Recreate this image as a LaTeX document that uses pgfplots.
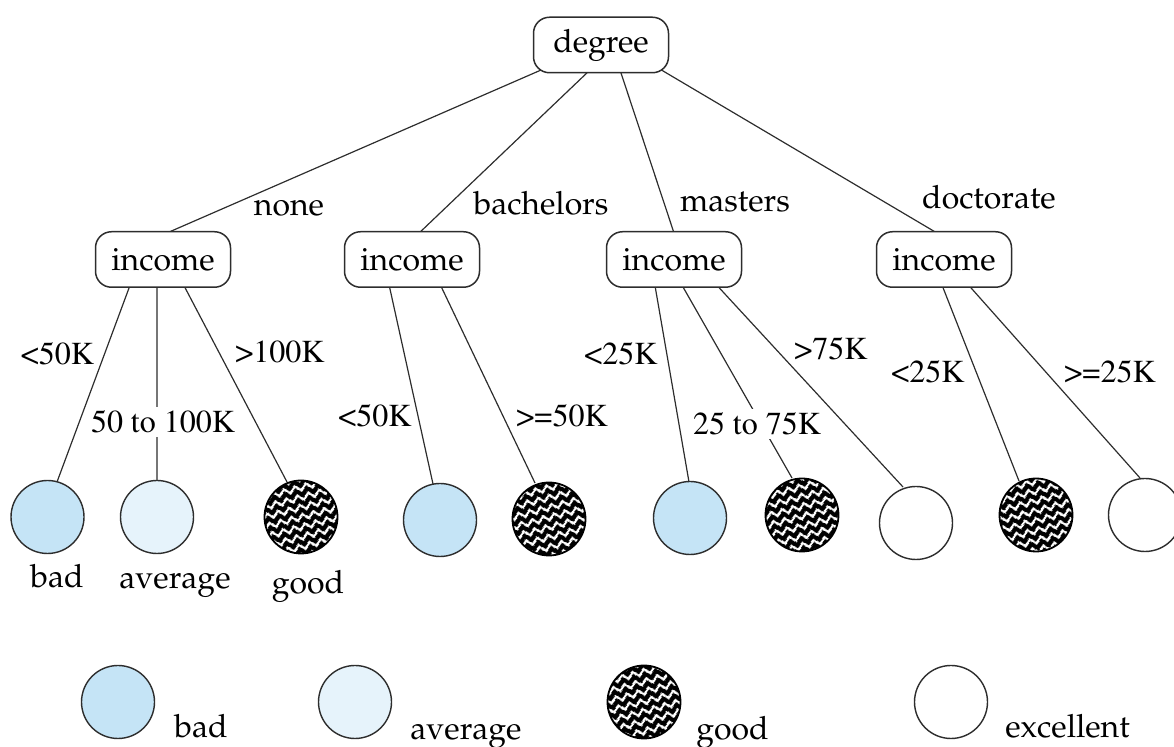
\documentclass[border=0pt]{standalone}
\usepackage[T1]{fontenc}
\usepackage{mathpazo}
\usepackage{pgfplots}
\pgfplotsset{compat=1.18}
\usetikzlibrary{patterns,patterns.meta}
\definecolor{badblue}{RGB}{197,228,246}
\definecolor{avgblue}{RGB}{230,243,251}
\definecolor{linegray}{RGB}{45,45,45}
\pgfdeclarepattern{
  name=zigzag,
  type=uncolored,
  bottom left={\pgfpoint{0pt}{0pt}},
  top right={\pgfpoint{5.8pt}{4.6pt}},
  tile size={\pgfpoint{5.8pt}{4.6pt}},
  tile transformation={\pgftransformrotate{15}},
  code={%
    \pgfsetlinewidth{1.15pt}\pgfsetmiterjoin
    \pgfpathmoveto{\pgfpoint{-2.9pt}{3.7pt}}
    \pgfpathlineto{\pgfpoint{0pt}{0.9pt}}
    \pgfpathlineto{\pgfpoint{2.9pt}{3.7pt}}
    \pgfpathlineto{\pgfpoint{5.8pt}{0.9pt}}
    \pgfpathlineto{\pgfpoint{8.7pt}{3.7pt}}
    \pgfusepath{stroke}}
}
\pgfdeclareplotmark{zzcircle}{%
  \pgfpathcircle{\pgfpointorigin}{\pgfplotmarksize}%
  \pgfsetfillcolor{black}\pgfusepath{fill}%
  \pgfpathcircle{\pgfpointorigin}{\pgfplotmarksize}%
  \pgfsetfillpattern{zigzag}{white}\pgfusepath{fill}%
  \pgfpathcircle{\pgfpointorigin}{\pgfplotmarksize}%
  \pgfsetstrokecolor{black}\pgfusepath{stroke}}
\newcommand\tm{\fontfamily{ptm}\selectfont}
\begin{document}
\begin{tikzpicture}[font=\fontsize{16}{19}\selectfont]
\begin{axis}[x=0.5pt, y=0.5pt, y dir=reverse,
  xmin=0, xmax=1174, ymin=0, ymax=747,
  hide axis, clip=false]
% tree edges
\addplot[linegray, line width=0.6pt, unbounded coords=jump] coordinates {
 (548,67) (160,236) (nan,nan)
 (590,70) (416,236) (nan,nan)
 (620,70) (675,236) (nan,nan)
 (658,68) (942,236) (nan,nan)
 (132,280) (57,482) (nan,nan)
 (157,280) (157,481) (nan,nan)
 (181,280) (287,482) (nan,nan)
 (388,280) (433,484) (nan,nan)
 (438,280) (535,483) (nan,nan)
 (654,280) (689,482) (nan,nan)
 (679,280) (792,478) (nan,nan)
 (712,280) (903,487) (nan,nan)
 (940,280) (1019,481) (nan,nan)
 (964,280) (1140,478)
};
% income edge labels (Times)
\addplot[draw=none, mark=none, point meta=explicit symbolic, nodes near coords,
  every node near coord/.append style={anchor=base, font=\fontsize{16}{19}\tm, fill=white, inner xsep=1pt, inner ysep=2pt, text=black}]
 coordinates {
 (57.5,365) [<50K]
 (280,363) [>100K]
 (163,433) [50 to 100K]
 (375,427) [<50K]
 (562,427) [>=50K]
 (621,365) [<25K]
 (757,435) [25 to 75K]
 (831,360) [>75K]
 (928,383) [<25K]
 (1110,383) [>=25K]
};
% decision boxes
\addplot[draw=none, mark=none, point meta=explicit symbolic, nodes near coords,
  every node near coord/.append style={anchor=center, draw=linegray, line width=0.75pt, fill=white, rounded corners=8pt, minimum width=67.5pt, minimum height=27.75pt, inner sep=0pt, text=black}]
 coordinates {
 (601,45) [degree]
 (163,259.5) [income]
 (412,259.5) [income]
 (674,259.5) [income]
 (944,259.5) [income]
};
% degree edge labels
\addplot[draw=none, mark=none, point meta=explicit symbolic, nodes near coords,
  every node near coord/.append style={anchor=base, inner sep=0pt, text=black}]
 coordinates {
 (289,216) [none]
 (541,215) [bachelors]
 (735,212) [masters]
 (989,209) [doctorate]
};
% leaves: bad
\addplot[only marks, mark=*, mark size=18.25pt, mark options={fill=badblue, draw=linegray, line width=0.7pt}]
 coordinates {(47.5,517) (440,520) (690,518) (118,702)};
% leaves: average
\addplot[only marks, mark=*, mark size=18.25pt, mark options={fill=avgblue, draw=linegray, line width=0.7pt}]
 coordinates {(157,517) (355,702)};
% leaves: excellent
\addplot[only marks, mark=*, mark size=18.25pt, mark options={fill=white, draw=linegray, line width=0.7pt}]
 coordinates {(916,523) (1145,515) (951,702)};
% leaves: good
\addplot[only marks, mark=zzcircle, mark size=18.25pt, mark options={line width=0.9pt}]
 coordinates {(301,517) (549,519) (802,515) (1036,515) (644,702)};
% leaf labels
\addplot[draw=none, mark=none, point meta=explicit symbolic, nodes near coords,
  every node near coord/.append style={anchor=base, inner sep=0pt, text=black}]
 coordinates {
 (57,588) [bad]
 (175,589) [average]
 (308,594) [good]
};
% legend labels
\addplot[draw=none, mark=none, point meta=explicit symbolic, nodes near coords,
  every node near coord/.append style={anchor=base west, inner sep=0pt, text=black}]
 coordinates {
 (174,738) [bad]
 (410,740) [average]
 (696,740) [good]
 (1005,738) [excellent]
};
\end{axis}
\pgfresetboundingbox
\path[use as bounding box] (current axis.south west) rectangle (current axis.north east);
\end{tikzpicture}
\end{document}
